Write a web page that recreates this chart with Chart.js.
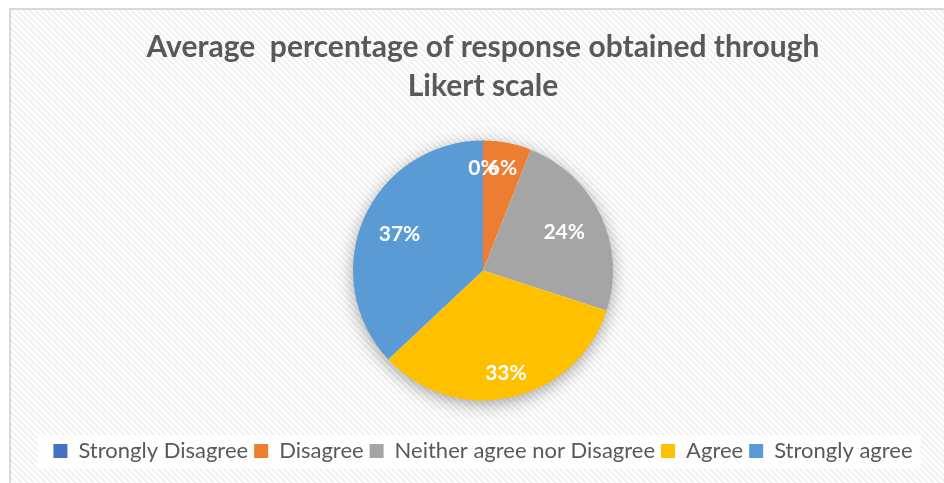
<!DOCTYPE html>
<html lang="en">
<head>
  <meta charset="UTF-8" />
  <title>Likert scale responses</title>
  <script src="https://cdn.jsdelivr.net/npm/chart.js"></script>
  <style>
    html, body { margin: 0; padding: 0; background: #fff; overflow: hidden; }
    #frame {
      position: absolute; left: 9px; top: 8px;
      width: 944px; height: 475px;
      border: 2px solid #d9d9d9;
    }
  </style>
</head>
<body>
  <div id="frame"><canvas id="pieChart"></canvas></div>

  <script>
    // data
    const categories = ['Strongly Disagree', 'Disagree', 'Neither agree nor Disagree', 'Agree', 'Strongly agree'];
    const percents = [0, 6, 24, 33, 37];
    const titleLines = ['Average  percentage of response obtained through', 'Likert scale'];

    const colors = ['#4472C4', '#ED7D31', '#A5A5A5', '#FFC000', '#5B9BD5'];
    // how far out (fraction of radius) each value label sits
    const labelRadius = [0.79, 0.8, 0.69, 0.81, 0.7];
    const textGray = '#595959';

    Chart.defaults.font.family = 'Lato';

    function makePattern(ctx) {
      const c = document.createElement('canvas');
      c.width = 6; c.height = 6;
      const p = c.getContext('2d');
      p.fillStyle = '#ffffff';
      p.fillRect(0, 0, 6, 6);
      p.strokeStyle = '#ededed';
      p.lineWidth = 1.5;
      p.beginPath();
      p.moveTo(-1, -1); p.lineTo(7, 7);
      p.moveTo(-4, 2); p.lineTo(4, 10);
      p.moveTo(2, -4); p.lineTo(10, 4);
      p.stroke();
      return ctx.createPattern(c, 'repeat');
    }

    const backdrop = {
      id: 'backdrop',
      beforeDraw(chart) {
        const ctx = chart.ctx;
        ctx.save();
        ctx.fillStyle = makePattern(ctx);
        ctx.fillRect(0, 0, chart.width, chart.height);
        // plain box behind the legend
        const boxes = chart.legend.legendHitBoxes;
        if (boxes && boxes.length) {
          const x0 = Math.min(...boxes.map(b => b.left)) - 16;
          const x1 = Math.max(...boxes.map(b => b.left + b.width)) + 8;
          ctx.fillStyle = 'rgba(255,255,255,0.85)';
          ctx.fillRect(x0, chart.legend.top + 1, x1 - x0, chart.legend.height - 4);
        }
        ctx.restore();
      },
      beforeDatasetsDraw(chart) {
        const arc = chart.getDatasetMeta(0).data[0];
        if (!arc) return;
        const ctx = chart.ctx;
        ctx.save();
        ctx.shadowColor = 'rgba(0,0,0,0.38)';
        ctx.shadowBlur = 18;
        ctx.shadowOffsetY = 4;
        ctx.fillStyle = '#ffffff';
        ctx.beginPath();
        ctx.arc(arc.x, arc.y, arc.outerRadius - 1, 0, Math.PI * 2);
        ctx.fill();
        ctx.restore();
      }
    };

    const sliceLabels = {
      id: 'sliceLabels',
      afterDatasetsDraw(chart) {
        const ctx = chart.ctx;
        const meta = chart.getDatasetMeta(0);
        ctx.save();
        ctx.fillStyle = '#ffffff';
        ctx.font = 'bold 21px Lato';
        ctx.textAlign = 'center';
        ctx.textBaseline = 'middle';
        meta.data.forEach((arc, i) => {
          const mid = (arc.startAngle + arc.endAngle) / 2;
          const r = arc.outerRadius * labelRadius[i];
          ctx.fillText(percents[i] + '%', arc.x + Math.cos(mid) * r, arc.y + Math.sin(mid) * r);
        });
        ctx.restore();
      }
    };

    new Chart(document.getElementById('pieChart'), {
      type: 'pie',
      data: {
        labels: categories,
        datasets: [{
          data: percents,
          backgroundColor: colors,
          borderWidth: 0,
          radius: 130
        }]
      },
      options: {
        responsive: true,
        maintainAspectRatio: false,
        animation: false,
        layout: { padding: { bottom: 13 } },
        plugins: {
          title: {
            display: true,
            text: titleLines,
            color: textGray,
            font: { size: 30, weight: 'bold', lineHeight: 1.3 },
            padding: { top: 18, bottom: 1 }
          },
          legend: {
            position: 'bottom',
            labels: {
              color: textGray,
              font: { size: 22 },
              boxWidth: 14,
              boxHeight: 14,
              padding: 6
            }
          },
          tooltip: { enabled: false }
        }
      },
      plugins: [backdrop, sliceLabels]
    });
  </script>
</body>
</html>
